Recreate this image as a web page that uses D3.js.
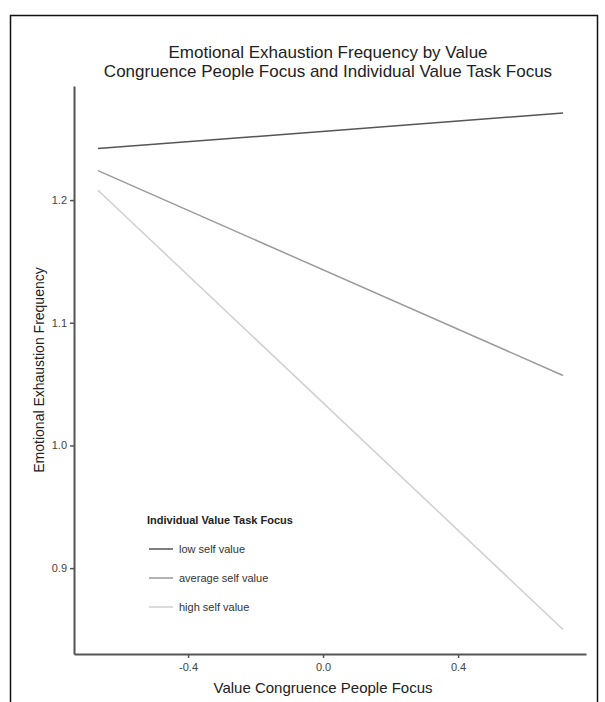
<!DOCTYPE html>
<html>
<head>
<meta charset="utf-8">
<script src="https://cdn.jsdelivr.net/npm/d3@7"></script>
<style>
  html, body { margin: 0; padding: 0; background: #fff; }
  svg { display: block; font-family: "Liberation Sans", Arial, sans-serif; }
</style>
</head>
<body>
<svg id="chart" width="605" height="702"></svg>
<script>
// ---- data ----
const seriesNames = ["low self value", "average self value", "high self value"];
const xEnds = [-0.667, 0.711];
const lowValues = [1.242, 1.271];
const averageValues = [1.224, 1.057];
const highValues = [1.208, 0.850];
const xTicks = [-0.4, 0.0, 0.4];
const yTicks = [0.9, 1.0, 1.1, 1.2];
const seriesColors = ["#555555", "#9a9a9a", "#cfcfcf"];

const svg = d3.select("#chart");

// frame
svg.append("path")
  .attr("d", "M10.5,702 L10.5,15.5 L597.5,15.5 L597.5,702")
  .attr("fill", "none").attr("stroke", "#111").attr("stroke-width", 1.5);

const x = d3.scaleLinear().domain([-0.738, 0.779]).range([74, 586]);
const y = d3.scaleLinear().domain([0.830, 1.293]).range([654, 86]);

// lines
const allSeries = [lowValues, averageValues, highValues];
const line = d3.line().x((d, i) => x(xEnds[i])).y(d => y(d));
svg.selectAll("path.series").data(allSeries).enter().append("path")
  .attr("class", "series")
  .attr("d", d => line(d))
  .attr("fill", "none")
  .attr("stroke", (d, i) => seriesColors[i])
  .attr("stroke-width", 1.5);

// axes
const fmt = d => d3.format(".1f")(d).replace("\u2212", "-");
const xAxis = svg.append("g").attr("transform", "translate(0,654)")
  .call(d3.axisBottom(x).tickValues(xTicks).tickFormat(fmt).tickSize(4).tickSizeOuter(0));
const yAxis = svg.append("g").attr("transform", "translate(74,0)")
  .call(d3.axisLeft(y).tickValues(yTicks).tickFormat(fmt).tickSize(4).tickSizeOuter(0));
[xAxis, yAxis].forEach(g => {
  g.select(".domain").attr("stroke", "#555").attr("stroke-width", 2);
  g.selectAll(".tick line").attr("stroke", "#555").attr("stroke-width", 1.5);
  g.selectAll(".tick text").attr("fill", "#444").style("font-size", "11px")
    .style("font-family", "Liberation Sans, Arial, sans-serif");
});
xAxis.selectAll(".tick text").attr("dy", "0.9em");

// titles
svg.append("text").attr("x", 328).attr("y", 58).attr("text-anchor", "middle")
  .style("font-size", "17px").attr("fill", "#222")
  .text("Emotional Exhaustion Frequency by Value");
svg.append("text").attr("x", 328).attr("y", 77).attr("text-anchor", "middle")
  .style("font-size", "17px").attr("fill", "#222")
  .text("Congruence People Focus and Individual Value Task Focus");

svg.append("text").attr("x", 323).attr("y", 693).attr("text-anchor", "middle")
  .style("font-size", "15px").attr("fill", "#222")
  .text("Value Congruence People Focus");
svg.append("text")
  .attr("transform", "translate(44,370) rotate(-90)")
  .attr("text-anchor", "middle")
  .style("font-size", "14px").attr("fill", "#222")
  .text("Emotional Exhaustion Frequency");

// legend
const legend = svg.append("g").attr("transform", "translate(147,524)");
legend.append("text").attr("x", 0).attr("y", 0)
  .style("font-size", "11px").style("font-weight", "bold").attr("fill", "#222")
  .text("Individual Value Task Focus");
const items = legend.selectAll("g.item").data(seriesNames).enter().append("g")
  .attr("class", "item")
  .attr("transform", (d, i) => `translate(0,${25 + i * 29})`);
items.append("line").attr("x1", 2).attr("x2", 26).attr("y1", 0).attr("y2", 0)
  .attr("stroke", (d, i) => seriesColors[i]).attr("stroke-width", 1.5);
items.append("text").attr("x", 32).attr("y", 4)
  .style("font-size", "11px").attr("fill", "#333")
  .text(d => d);
</script>
</body>
</html>
